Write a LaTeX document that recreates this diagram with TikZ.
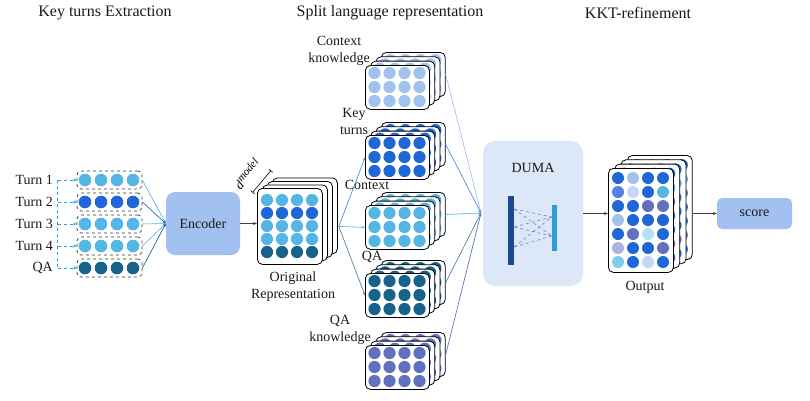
\documentclass[tikz,border=0pt]{standalone}
\usepackage{fontspec}
\setmainfont{Liberation Serif}
\newfontfamily\tnr{Liberation Serif}
\usetikzlibrary{arrows.meta,calc}
\definecolor{cL}{HTML}{55B5E5}
\definecolor{cD}{HTML}{1F66D6}
\definecolor{cT}{HTML}{16628A}
\definecolor{cP}{HTML}{A2C2EE}
\definecolor{cR}{HTML}{6170BF}
\definecolor{cM}{HTML}{4C86E0}
\definecolor{cV}{HTML}{C4D7F5}
\definecolor{cC}{HTML}{B6E0F4}
\definecolor{cA}{HTML}{ADB4DC}
\definecolor{cK}{HTML}{80CCEB}
\definecolor{cEnc}{HTML}{A3C1F0}
\definecolor{cDuma}{HTML}{DCE7F7}
\definecolor{cBus}{HTML}{1AA3EC}
\definecolor{cNavy}{HTML}{1A4A8F}
\definecolor{cBar}{HTML}{2E9BD6}
\definecolor{cDash}{HTML}{5577BB}
\tikzset{
  layer/.style={draw=black, line width=0.8pt, fill=white, rounded corners=5pt, inner sep=0pt, anchor=north west},
  tbox/.style={draw=black!80, dashed, line width=0.7pt, fill=white, rounded corners=4pt, minimum width=65pt, minimum height=18pt, inner sep=0pt},
  lab/.style={font=\tnr\fontsize{14}{17}\selectfont, text=black!90, align=center, inner sep=0pt},
  head/.style={font=\tnr\fontsize{16}{19}\selectfont, text=black!90, inner sep=0pt},
  blk/.style={-{Stealth[length=4pt,width=3pt]}, line width=0.6pt, draw=black!75},
  thin/.style={-{Stealth[length=3pt,width=2.5pt]}, line width=0.6pt},
  bus/.style={draw=cBus, dashed, line width=0.7pt},
}
\newcommand\splitstack[3]{%
  \foreach \k in {3,2,1,0}{%
    \begin{scope}[shift={(365+5.3*\k, #2-4.3*\k)}]
      \node[layer, minimum width=64pt, minimum height=44pt] (#1\k) at (0,0) {};
      \foreach \cx in {9.5,24.5,39.5,54.5} \foreach \cy in {8,22,36} \fill[#3] (\cx,\cy) circle[radius=6.1pt];
    \end{scope}
  }%
}
\begin{document}
\begin{tikzpicture}[x=1pt,y=-1pt]
\useasboundingbox (0,0) rectangle (810,400);
% headings
\node[head] (h1) at (105,13) {Key turns Extraction};
\node[head] (h2) at (390,13) {Split language representation};
\node[head] (h3) at (638,13) {KKT-refinement};
% left turn boxes
\foreach \i/\yy/\cc/\tt in {1/180/cL/Turn 1, 2/202/cD/Turn 2, 3/224/cL/Turn 3, 4/246/cL/Turn 4, 5/268/cT/QA}{
  \node[lab, anchor=east] (t\i) at (53,\yy) {\tt};
  \node[tbox] (b\i) at (109.5,\yy) {};
  \foreach \cx in {85,101,117,133} \fill[\cc] (\cx,\yy) circle[radius=6.3pt];
}
\draw[bus] (t1.east) ++(4.5,0) coordinate (v1) -- (v1 |- t5);
\foreach \i in {1,...,5}{ \draw[bus, -{Stealth[length=3.5pt,width=3pt]}] (v1 |- b\i) -- (b\i.west); }
% encoder
\node[fill=cEnc, rounded corners=9pt, minimum width=74pt, minimum height=63pt, lab] (enc) at (203,223.5) {Encoder};
\foreach \i/\cc in {1/cL,2/cD,3/cL,4/cL,5/cT}{ \draw[thin, draw=\cc, fill=\cc] (b\i.east) -- (enc.west); }
% original representation
\foreach \k in {3,2,1,0}{
  \begin{scope}[shift={(257+5*\k, 188-3.5*\k)}]
    \node[layer, minimum width=65pt, minimum height=76pt] (orig\k) at (0,0) {};
    \foreach \cy/\cc in {12/cL, 25/cD, 38/cL, 51/cL, 64/cT}
      \foreach \cx in {10,25,40,55} \fill[\cc] (\cx,\cy) circle[radius=6.1pt];
  \end{scope}
}
\draw[blk] (enc.east) -- (enc.east -| orig0.west);
\node[lab] (origlab) at (293,287) {Original\\Representation};
\draw[line width=0.6pt, {Bar[width=5pt]}-{Bar[width=5pt]}] (252.5,192.5) -- (271,170.5);
\node[rotate=50, inner sep=0pt] (dm) at (247,174) {\tnr\fontsize{13}{13}\selectfont\textit{d}\raisebox{4pt}{\fontsize{11}{11}\selectfont\textit{model}}};
% split stacks
\splitstack{ck}{65}{cP}
\splitstack{kt}{135}{cD}
\splitstack{cx}{205}{cL}
\splitstack{qa}{273}{cT}
\splitstack{qk}{345}{cR}
\node[lab] (lck) at (339,50.5) {Context\\knowledge};
\node[lab] (lkt) at (354,121) {Key\\turns};
\node[lab] (lcx) at (367,185) {Context};
\node[lab] (lqa) at (372,257) {QA};
\node[lab] (lqk) at (340,329.5) {QA\\knowledge};
\coordinate (fo) at ($(orig0.east)+(16,0)$);
\draw[thin, draw=cM, fill=cM] (fo) -- (kt0.west);
\draw[thin, draw=cL, fill=cL] (fo) -- (cx0.west);
\draw[thin, draw=cT!80, fill=cT!80] (fo) -- (qa0.west);
% DUMA
\node[fill=cDuma, rounded corners=12pt, minimum width=100pt, minimum height=145pt, inner sep=0pt] (duma) at (533,213.5) {};
\node[lab] (dumalab) at (533,168) {DUMA};
\coordinate (conv) at (481,213);
\draw[thin, draw=cP, fill=cP] (ck3.east) -- (conv);
\draw[thin, draw=cM, fill=cM] (kt3.east) -- (conv);
\draw[thin, draw=cL, fill=cL] (cx3.east) -- (conv);
\draw[thin, draw=cT!80, fill=cT!80] (qa3.east) -- (conv);
\draw[thin, draw=cR, fill=cR] (qk3.east) -- (conv);
\node[fill=cNavy, minimum width=6pt, minimum height=69pt, inner sep=0pt] (barL) at (511,230.5) {};
\node[fill=cBar, minimum width=5pt, minimum height=46pt, inner sep=0pt] (barR) at (554.5,228) {};
\foreach \ya in {209,227,247}\foreach \yb in {217,236}
  \draw[cDash, dashed, line width=0.5pt] (barL.east |- 0,\ya) -- (barR.west |- 0,\yb);
% output
\foreach \k in {3,2,1,0}{
  \begin{scope}[shift={(608+6.3*\k, 168-4.3*\k)}]
    \node[layer, minimum width=65pt, minimum height=104pt] (out\k) at (0,0) {};
    \foreach \cy/\ca/\cb/\cc/\cd in {10/cD/cP/cD/cD, 24/cM/cV/cD/cL, 38/cD/cD/cR/cR, 52/cP/cD/cD/cD, 66/cD/cR/cC/cD, 80/cA/cD/cD/cR, 94/cK/cD/cV/cD}{
      \fill[\ca] (10,\cy) circle[radius=6pt];
      \fill[\cb] (25,\cy) circle[radius=6pt];
      \fill[\cc] (40,\cy) circle[radius=6pt];
      \fill[\cd] (55,\cy) circle[radius=6pt];
    }
  \end{scope}
}
\node[lab] (outlab) at (645,287) {Output};
\draw[blk] (duma.east) -- (duma.east -| out0.west);
\node[fill=cEnc, rounded corners=5pt, minimum width=75pt, minimum height=31pt, lab] (score) at (754.5,213.5) {score};
\draw[blk] (out3.east |- score.west) -- (score.west);
\end{tikzpicture}
\end{document}
